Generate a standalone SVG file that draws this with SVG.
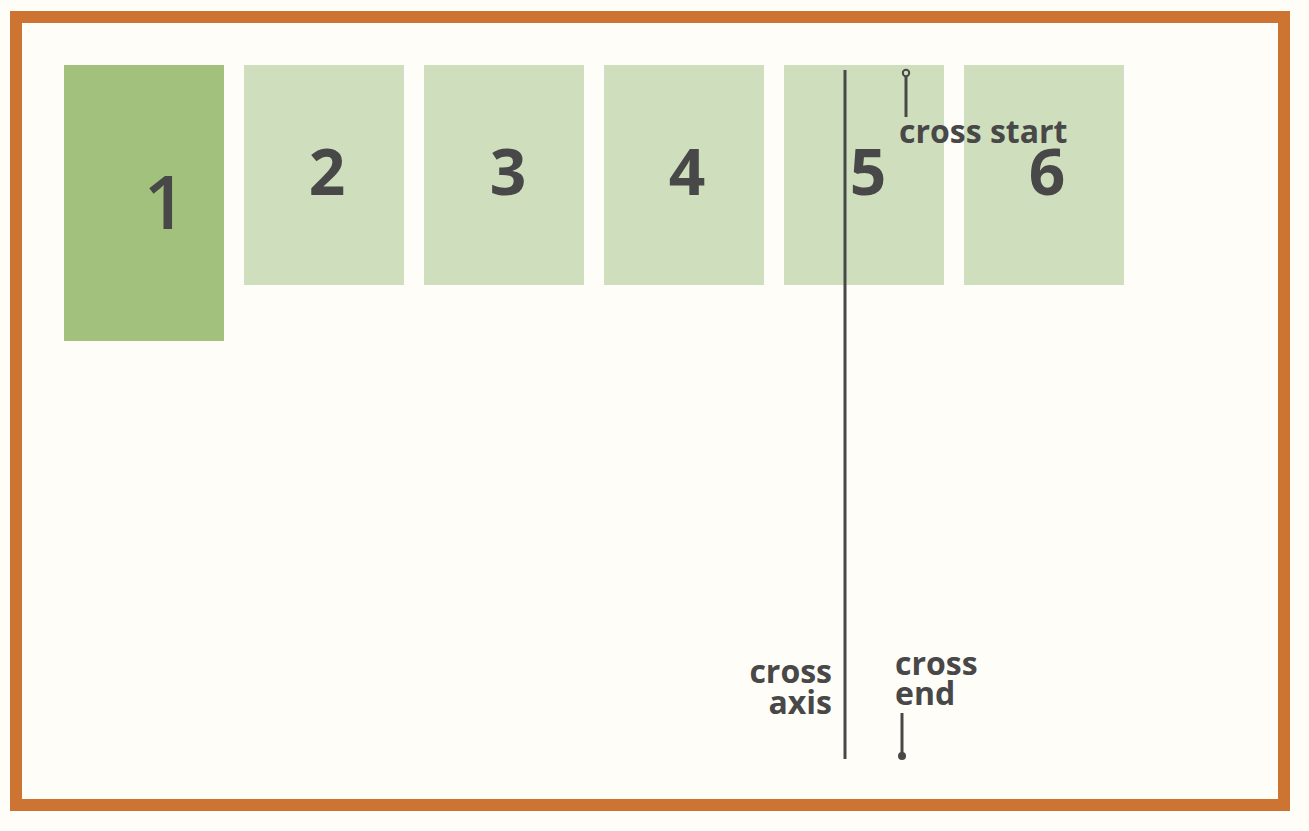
<svg xmlns="http://www.w3.org/2000/svg" width="1309" height="831" viewBox="0 0 1309 831">
<style>
.bg{fill:#fffdf8}
.frame{fill:#fffdf8;stroke:#cd7433;stroke-width:12}
.item{fill:#cfdfbd}
.first{fill:#a2c17d}
.num{font-family:"Open Sans","DejaVu Sans",sans-serif;font-weight:700;font-size:64px;fill:#484848;text-anchor:middle}
.lbl{font-family:"Open Sans","DejaVu Sans",sans-serif;font-weight:700;font-size:32px;fill:#484848}
.ln{stroke:#484848;stroke-width:3;fill:none}
</style>
<rect class="bg" x="0" y="0" width="1309" height="831"/>
<rect class="frame" x="16" y="17" width="1268" height="788"/>
<g id="item1"><rect class="first" x="64" y="65" width="160" height="276"/><text class="num" x="165" y="229" style="font-size:74px;font-weight:600">1</text></g>
<g id="item2"><rect class="item" x="244" y="65" width="160" height="220"/><text class="num" x="327" y="195">2</text></g>
<g id="item3"><rect class="item" x="424" y="65" width="160" height="220"/><text class="num" x="508" y="195">3</text></g>
<g id="item4"><rect class="item" x="604" y="65" width="160" height="220"/><text class="num" x="687" y="195">4</text></g>
<g id="item5"><rect class="item" x="784" y="65" width="160" height="220"/><text class="num" x="868" y="195">5</text></g>
<g id="item6"><rect class="item" x="964" y="65" width="160" height="220"/><text class="num" x="1047" y="195">6</text></g>
<g id="connectors">
<line class="ln" x1="845" y1="70" x2="845" y2="759"/>
<line class="ln" x1="906" y1="76" x2="906" y2="117"/>
<circle cx="906" cy="73" r="3.2" fill="#cfdfbd" stroke="#484848" stroke-width="2"/>
<line class="ln" x1="902" y1="713" x2="902" y2="753"/>
<circle cx="902" cy="756" r="4" fill="#484848"/>
</g>
<g id="labels">
<text class="lbl" x="899" y="143">cross start</text>
<text class="lbl" x="832" y="683" text-anchor="end">cross</text>
<text class="lbl" x="832" y="714" text-anchor="end">axis</text>
<text class="lbl" x="895" y="675">cross</text>
<text class="lbl" x="895" y="705">end</text>
</g>
</svg>
